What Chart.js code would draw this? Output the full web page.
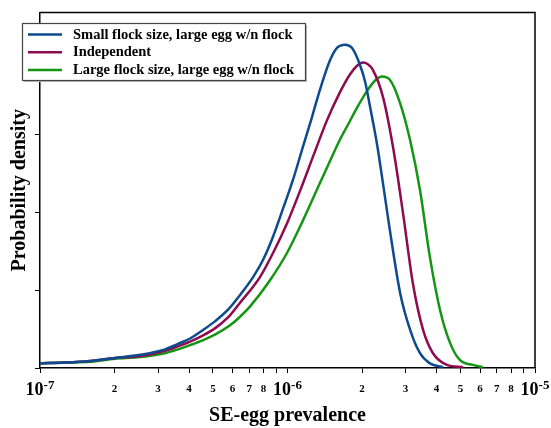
<!DOCTYPE html>
<html><head><meta charset="utf-8">
<script src="https://cdn.jsdelivr.net/npm/chart.js@4.4.0/dist/chart.umd.min.js"></script>
<style>html,body{margin:0;padding:0;background:#fff;} #wrap{width:551px;height:428px;}</style>
</head><body>
<div id="wrap"><canvas id="c" width="551" height="428"></canvas></div>
<script>
// ---- data ----
const seriesLabels = ['Small flock size, large egg w/n flock', 'Independent', 'Large flock size, large egg w/n flock'];
const seriesColors = ['#0d4a8f', '#8e0b4f', '#149614'];

const smallFlockX = [1.00e-7,1.26e-7,1.59e-7,2.01e-7,2.54e-7,3.20e-7,3.61e-7,4.04e-7,4.56e-7,5.09e-7,5.75e-7,6.43e-7,7.26e-7,7.96e-7,8.74e-7,9.59e-7,1.052e-6,1.155e-6,1.256e-6,1.352e-6,1.485e-6,1.585e-6,1.71e-6,1.82e-6,1.963e-6,2.06e-6,2.15e-6,2.30e-6,2.43e-6,2.59e-6,2.85e-6,3.13e-6,3.43e-6,3.76e-6,4.25e-6];
const smallFlockY = [0.06,0.07,0.09,0.13,0.17,0.24,0.31,0.38,0.49,0.60,0.75,0.94,1.17,1.39,1.69,2.05,2.42,2.85,3.23,3.58,3.96,4.12,4.16,4.12,3.90,3.68,3.38,2.88,2.38,1.78,0.97,0.49,0.19,0.06,0.01];

const independentX = [1.00e-7,1.26e-7,1.59e-7,2.01e-7,2.54e-7,3.20e-7,3.61e-7,4.04e-7,4.56e-7,5.09e-7,5.75e-7,6.43e-7,7.74e-7,8.74e-7,9.95e-7,1.124e-6,1.268e-6,1.445e-6,1.63e-6,1.79e-6,1.91e-6,2.02e-6,2.11e-6,2.21e-6,2.43e-6,2.67e-6,2.93e-6,3.21e-6,3.53e-6,3.87e-6,4.41e-6,5.12e-6];
const independentY = [0.06,0.07,0.09,0.13,0.15,0.22,0.28,0.34,0.42,0.51,0.65,0.84,1.17,1.48,1.86,2.28,2.72,3.19,3.55,3.78,3.89,3.93,3.91,3.84,3.49,2.84,1.99,1.09,0.49,0.19,0.04,0.01];

const largeFlockX = [1.00e-7,1.26e-7,1.59e-7,2.01e-7,2.54e-7,3.20e-7,3.61e-7,4.04e-7,4.56e-7,5.09e-7,5.86e-7,6.43e-7,7.05e-7,8.50e-7,9.95e-7,1.155e-6,1.352e-6,1.528e-6,1.63e-6,1.755e-6,1.91e-6,2.10e-6,2.26e-6,2.41e-6,2.59e-6,2.85e-6,3.13e-6,3.43e-6,3.76e-6,4.13e-6,4.54e-6,4.98e-6,5.61e-6,6.17e-6];
const largeFlockY = [0.06,0.07,0.08,0.12,0.14,0.19,0.24,0.295,0.36,0.43,0.55,0.66,0.79,1.13,1.48,1.90,2.38,2.75,2.94,3.13,3.35,3.57,3.70,3.75,3.71,3.41,2.93,2.29,1.43,0.75,0.32,0.10,0.04,0.01];

const xMin = 1e-7, xMax = 1e-5;
const yMin = 0, yMax = 4.575;
const majorExponents = ['-7', '-6', '-5'];
const minorTickLabels = ['2','3','4','5','6','7','8'];
const xTitle = 'SE-egg prevalence';
const yTitle = 'Probability density';

// ---- drawing ----
const FONT = '"Liberation Serif", "Times New Roman", serif';
function pts(xs, ys) { return xs.map((x, i) => ({ x: x, y: ys[i] })); }

const framePlugin = {
  id: 'frame',
  afterDraw(chart) {
    const a = chart.chartArea, ctx = chart.ctx;
    ctx.save();
    ctx.strokeStyle = '#000'; ctx.lineWidth = 1.5;
    ctx.beginPath();
    ctx.moveTo(a.left, a.top); ctx.lineTo(a.right, a.top); ctx.lineTo(a.right, a.bottom);
    ctx.stroke();
    ctx.restore();
  }
};

const majorLabelPlugin = {
  id: 'majorLabels',
  afterDraw(chart) {
    const xs = chart.scales.x, ctx = chart.ctx;
    ctx.save();
    ctx.fillStyle = '#000';
    ctx.textBaseline = 'alphabetic';
    majorExponents.forEach(e => {
      const px = xs.getPixelForValue(Number('1e' + e));
      ctx.font = 'bold 18px ' + FONT;
      const w1 = ctx.measureText('10').width;
      ctx.font = 'bold 13px ' + FONT;
      const w2 = ctx.measureText(e).width;
      const x0 = px - (w1 + w2) / 2;
      ctx.font = 'bold 18px ' + FONT;
      ctx.textAlign = 'left';
      ctx.fillText('10', x0, 395);
      ctx.font = 'bold 13px ' + FONT;
      ctx.fillText(e, x0 + w1, 389);
    });
    ctx.restore();
  }
};

const legendPlugin = {
  id: 'boxLegend',
  afterDraw(chart) {
    const ctx = chart.ctx;
    const bx = 22, by = 23, bw = 283, bh = 57;
    ctx.save();
    ctx.fillStyle = '#bbb';
    ctx.fillRect(bx + 2, by + 2, bw, bh);
    ctx.fillStyle = '#fff';
    ctx.fillRect(bx, by, bw, bh);
    ctx.strokeStyle = '#444'; ctx.lineWidth = 1.2;
    ctx.strokeRect(bx + 0.5, by + 0.5, bw, bh);
    ctx.font = 'bold 14.5px ' + FONT;
    ctx.textBaseline = 'middle';
    ctx.textAlign = 'left';
    chart.data.datasets.forEach((ds, i) => {
      const y = 34.5 + i * 17.7;
      ctx.strokeStyle = ds.borderColor; ctx.lineWidth = 2.5;
      ctx.beginPath(); ctx.moveTo(28, y); ctx.lineTo(62, y); ctx.stroke();
      ctx.fillStyle = '#000';
      ctx.fillText(ds.label, 73, y + 0.5);
    });
    ctx.restore();
  }
};

const seriesX = [smallFlockX, independentX, largeFlockX];
const seriesY = [smallFlockY, independentY, largeFlockY];

new Chart(document.getElementById('c'), {
  type: 'line',
  data: {
    datasets: seriesLabels.map((lab, i) => ({
      label: lab,
      data: pts(seriesX[i], seriesY[i]),
      borderColor: seriesColors[i],
      backgroundColor: seriesColors[i],
      borderWidth: 2.5,
      pointRadius: 0,
      fill: false,
      cubicInterpolationMode: 'monotone'
    }))
  },
  options: {
    responsive: false,
    animation: false,
    layout: { padding: { left: 0, right: 16, top: 12.5, bottom: 0 } },
    plugins: { legend: { display: false }, tooltip: { enabled: false } },
    scales: {
      x: {
        type: 'logarithmic',
        min: xMin, max: xMax,
        afterFit(s) { s.height = 60; },
        afterBuildTicks(s) {
          const t = [];
          for (let k = 0; k < majorExponents.length - 1; k++) {
            for (let m = 1; m <= 9; m++) t.push({ value: Number(m + 'e' + majorExponents[k]) });
          }
          t.push({ value: Number('1e' + majorExponents[majorExponents.length - 1]) });
          s.ticks = t;
        },
        border: { display: true, color: '#000', width: 1.5 },
        grid: { drawOnChartArea: false, drawTicks: true, tickLength: 5, tickColor: '#000', tickWidth: 1 },
        ticks: {
          autoSkip: false, maxRotation: 0, minRotation: 0, padding: 10, color: '#000',
          font: { family: FONT, size: 11, weight: 'bold' },
          callback(value) {
            const e = Math.floor(Math.log10(value) + 1e-9);
            const m = Math.round(value / Math.pow(10, e));
            return minorTickLabels.includes(String(m)) ? String(m) : '';
          }
        },
        title: { display: true, text: xTitle, color: '#000', font: { family: FONT, size: 20, weight: 'bold' }, padding: { top: 0, bottom: 0 } }
      },
      y: {
        type: 'linear',
        min: yMin, max: yMax,
        afterFit(s) { s.width = 40; },
        afterBuildTicks(s) { s.ticks = s.ticks.filter(t => Math.abs(t.value - Math.round(t.value)) < 1e-9); },
        border: { display: true, color: '#000', width: 1.5 },
        grid: { drawOnChartArea: false, drawTicks: true, tickLength: 5, tickColor: '#000', tickWidth: 1 },
        ticks: { display: false, stepSize: 1 },
        title: { display: true, text: yTitle, color: '#000', font: { family: FONT, size: 20, weight: 'bold' }, padding: { top: 8, bottom: 0 } }
      }
    }
  },
  plugins: [framePlugin, majorLabelPlugin, legendPlugin]
});
</script>
</body></html>
